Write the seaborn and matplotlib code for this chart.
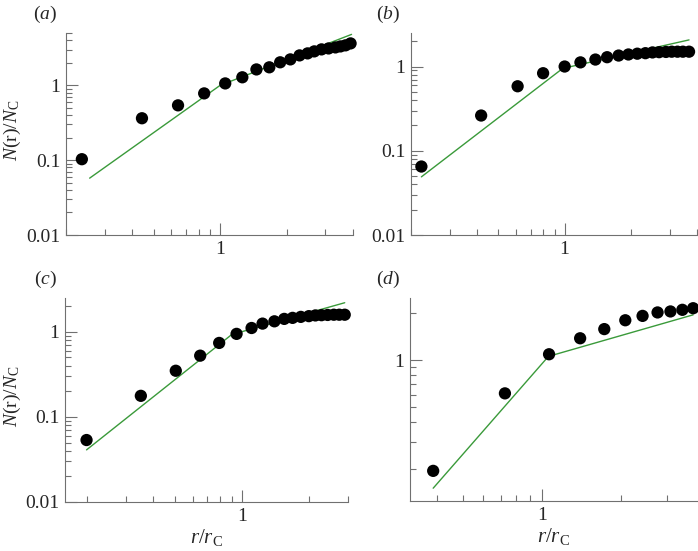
import matplotlib
matplotlib.use("Agg")
import matplotlib.pyplot as plt
import seaborn as sns
import numpy as np
from matplotlib.ticker import LogLocator, FuncFormatter, NullFormatter

# ---- data ----
# (a)
r_a = [0.236, 0.442, 0.644, 0.846, 1.054, 1.26, 1.46, 1.67, 1.87, 2.08,
       2.29, 2.49, 2.67, 2.88, 3.10, 3.33, 3.51, 3.70, 3.90]
n_a = [0.103, 0.363, 0.54, 0.78, 1.06, 1.28, 1.63, 1.74, 2.03, 2.22,
       2.51, 2.67, 2.84, 3.02, 3.11, 3.21, 3.31, 3.42, 3.63]
fit_r_a = [0.256, 1.0, 3.94]
fit_n_a = [0.0575, 1.0, 4.79]

# (b)
r_b = [0.223, 0.417, 0.611, 0.798, 1.0, 1.18, 1.38, 1.56, 1.76, 1.95,
       2.14, 2.33, 2.51, 2.69, 2.89, 3.07, 3.26, 3.45, 3.68]
n_b = [0.065, 0.262, 0.583, 0.833, 1.0, 1.12, 1.21, 1.29, 1.35, 1.39,
       1.42, 1.44, 1.47, 1.48, 1.49, 1.50, 1.50, 1.50, 1.50]
fit_r_b = [0.223, 0.98, 3.68]
fit_n_b = [0.049, 0.95, 2.07]

# (c)
r_c = [0.2, 0.351, 0.504, 0.649, 0.79, 0.946, 1.105, 1.238, 1.4, 1.55,
       1.69, 1.84, 2.0, 2.14, 2.28, 2.43, 2.59, 2.74, 2.9]
n_c = [0.0535, 0.177, 0.349, 0.525, 0.741, 0.947, 1.11, 1.25, 1.33, 1.42,
       1.46, 1.50, 1.53, 1.56, 1.57, 1.58, 1.59, 1.59, 1.59]
fit_r_c = [0.2, 0.9, 2.9]
fit_n_c = [0.041, 0.93, 2.2]

# (d)
r_d = [0.386, 0.724, 1.066, 1.40, 1.73, 2.08, 2.42, 2.76, 3.09, 3.43, 3.77]
n_d = [0.195, 0.612, 1.09, 1.38, 1.58, 1.80, 1.92, 2.02, 2.05, 2.10, 2.15]
fit_r_d = [0.386, 1.06, 3.77]
fit_n_d = [0.151, 1.056, 1.95]

panel_names = ['a', 'b', 'c', 'd']

sns.set_theme(style='ticks')
plt.rcParams['font.family'] = ['Liberation Serif', 'DejaVu Serif']
plt.rcParams['mathtext.fontset'] = 'custom'
plt.rcParams['mathtext.rm'] = 'Liberation Serif'
plt.rcParams['mathtext.it'] = 'Liberation Serif:italic'

W, H = 698, 551
fig = plt.figure(figsize=(W / 100, H / 100), dpi=100)

def px_axes(left, top, right, bottom):
    return fig.add_axes([left / W, (H - bottom) / H, (right - left) / W, (bottom - top) / H])

axes = [
    px_axes(66, 33, 353, 235),
    px_axes(411, 33, 697, 235),
    px_axes(65, 298, 348, 502),
    px_axes(410, 298, 697, 501),
]
limits = [((0.2, 4), (0.01, 5)),
          ((0.2, 4), (0.01, 2.5)),
          ((0.16, 3), (0.01, 2.5)),
          ((0.315, 3.9), (0.125, 2.5))]
data = [(r_a, n_a, fit_r_a, fit_n_a),
        (r_b, n_b, fit_r_b, fit_n_b),
        (r_c, n_c, fit_r_c, fit_n_c),
        (r_d, n_d, fit_r_d, fit_n_d)]

spine_col = '#707070'
green = '#3a9a3a'
fmt = FuncFormatter(lambda v, p: f'{v:g}')

for ax, (xl, yl), (r, n, fr, fn) in zip(axes, limits, data):
    ax.set_xscale('log')
    ax.set_yscale('log')
    sns.lineplot(x=fr, y=fn, ax=ax, color=green, lw=1.0, estimator=None, sort=False)
    sns.scatterplot(x=r, y=n, ax=ax, color='black', s=78, edgecolor='none', clip_on=False, zorder=3)
    ax.set_xlim(*xl)
    ax.set_ylim(*yl)
    for s in ['top', 'right']:
        ax.spines[s].set_visible(False)
    for s in ['left', 'bottom']:
        ax.spines[s].set_color(spine_col)
        ax.spines[s].set_linewidth(0.8)
    for axis in [ax.xaxis, ax.yaxis]:
        axis.set_major_locator(LogLocator(base=10, numticks=12))
        axis.set_minor_locator(LogLocator(base=10, subs=np.arange(2, 10), numticks=12))
        axis.set_major_formatter(fmt)
        axis.set_minor_formatter(NullFormatter())
    ax.tick_params(which='both', direction='in', color=spine_col, width=0.8, labelsize=14, pad=4)
    ax.tick_params(which='major', length=8.5)
    ax.tick_params(which='minor', length=4.5)
    ax.set_xlabel('')
    ax.set_ylabel('')

ylab = r'$N$(r)/$N_{\mathrm{C}}$'
xlab = r'$r/r_{\mathrm{C}}$'
for ax in [axes[0], axes[2]]:
    ax.set_ylabel(ylab, fontsize=14)
    ax.yaxis.set_label_coords(-0.15, 0.52)
for ax in [axes[2], axes[3]]:
    ax.set_xlabel(xlab, fontsize=15)
    ax.xaxis.set_label_coords(0.5, -0.125)

label_pos = [(33, 14), (376, 14), (34, 279), (376, 279)]
for name, (x, y) in zip(panel_names, label_pos):
    fig.text(x / W, 1 - y / H, '(' + r'$\mathit{' + name + '}$' + ')',
             fontsize=14, ha='left', va='center')

fig.savefig('out.png', dpi=100)
